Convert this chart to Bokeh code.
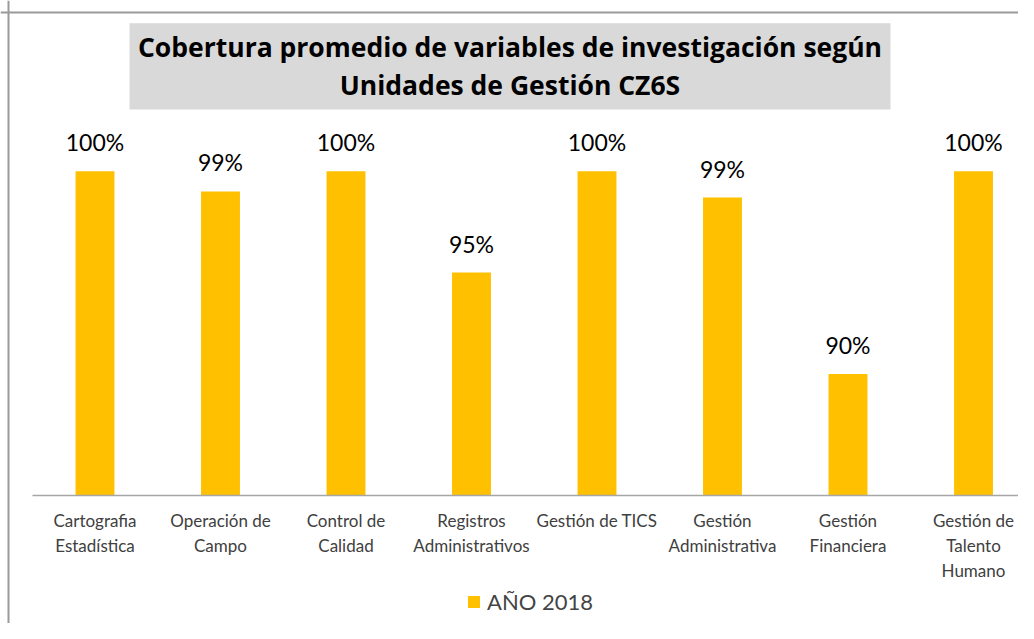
from bokeh.plotting import figure
from bokeh.models import (ColumnDataSource, Range1d, LinearAxis, FixedTicker, Span,
                          BoxAnnotation, Label, Legend, LegendItem)
from bokeh.core.properties import value
from bokeh.embed import file_html
from bokeh.resources import INLINE

# ---------------- data ----------------
categories = [
    "Cartografia\nEstadística",
    "Operación de\nCampo",
    "Control de\nCalidad",
    "Registros\nAdministrativos",
    "Gestión de TICS",
    "Gestión\nAdministrativa",
    "Gestión\nFinanciera",
    "Gestión de\nTalento\nHumano",
]
coverage = [100, 99, 100, 95, 100, 98.7, 90, 100]
series_name = "AÑO 2018"
title_lines = ["Cobertura promedio de variables de investigación según",
               "Unidades de Gestión CZ6S"]
Y_BASE = 84  # value at the baseline of the bars

# ---------------- layout constants (picture pixels) ----------------
W, H = 1018, 623
frame_left, frame_right = 0, W
frame_top, frame_bottom = 0, H
CX0, PITCH = 94.5, 125.5        # x of first bar centre, spacing
BASE_PX, PX_PER = 495, 20.27    # y of baseline, px per unit


def xd(px):
    return (px - CX0) / PITCH


def yd(py):
    return Y_BASE + (BASE_PX - py) / PX_PER


FONT = "Lato"
TITLE_FONT = "Open Sans"
BAR = "#FFC000"

p = figure(width=W, height=H, output_backend="svg", toolbar_location=None,
           x_axis_location=None, y_axis_location=None,
           x_range=Range1d(xd(frame_left), xd(frame_right)),
           y_range=Range1d(yd(frame_bottom), yd(frame_top)),
           min_border_left=0, min_border_right=0, min_border_top=0,
           min_border_bottom=0, outline_line_color=None,
           background_fill_color="white", border_fill_color="white")
p.grid.visible = False

# chart border (left & top)
p.add_layout(Span(location=xd(8), dimension="height", line_color="#9A9A9A", line_width=2))
p.add_layout(Span(location=yd(12), dimension="width", line_color="#9A9A9A", line_width=2))

# title box
p.add_layout(BoxAnnotation(left=xd(129), right=xd(890), top=yd(22.7), bottom=yd(109),
                           fill_color="#D9D9D9", fill_alpha=1.0, line_color=None,
                           level="underlay"))
for line, mid in zip(title_lines, [46.5, 84.5]):
    p.add_layout(Label(x=xd(509.5), y=yd(mid), text=line, text_align="center",
                       text_baseline="middle", text_font=TITLE_FONT, text_font_size="26.5px",
                       text_font_style="bold", text_color="#000000"))

source = ColumnDataSource(dict(
    x=list(range(len(categories))),
    top=coverage,
    label=[f"{round(v)}%" for v in coverage],
))

bars = p.vbar(x="x", top="top", bottom=Y_BASE, width=0.31, source=source,
              fill_color=BAR, line_color=None)

p.text(x="x", y="top", text="label", source=source, text_align="center",
       text_baseline="middle", y_offset=-29, text_font=value(FONT),
       text_font_size="23px", text_color="#000000")

ax = LinearAxis(fixed_location=Y_BASE,
                ticker=FixedTicker(ticks=list(range(len(categories)))),
                major_label_overrides={i: c for i, c in enumerate(categories)},
                bounds=(xd(32), xd(frame_right)),
                axis_line_color="#A6A6A6", axis_line_width=1.5,
                major_tick_line_color=None, minor_tick_line_color=None,
                major_label_standoff=8, major_label_text_font=FONT,
                major_label_text_font_size="17px", major_label_text_color="#404040")
p.add_layout(ax, "below")

legend = Legend(items=[LegendItem(label=series_name, renderers=[bars])],
                location=(466, 8), orientation="horizontal",
                glyph_width=15, glyph_height=15, label_text_font=FONT,
                label_text_font_size="22px", label_standoff=6, padding=0, margin=0,
                border_line_color=None, background_fill_alpha=0, spacing=0)
p.add_layout(legend)

open("out.html", "w").write(file_html(p, INLINE))
